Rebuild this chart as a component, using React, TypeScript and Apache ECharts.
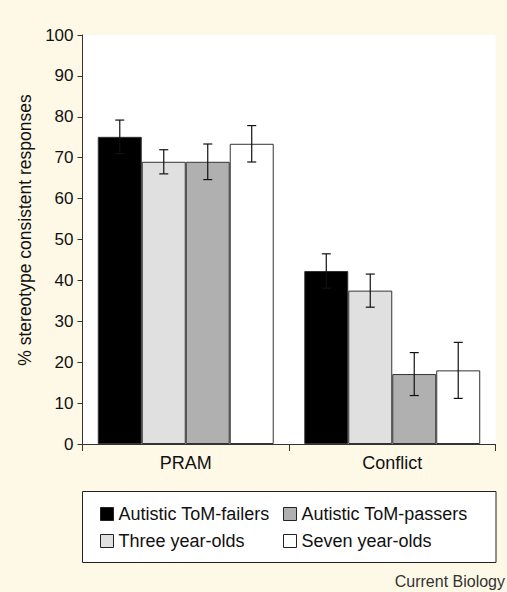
import React, { useEffect, useRef } from "react";
import * as echarts from "echarts";

const categories = ["PRAM", "Conflict"];
const seriesNames = ["Autistic ToM-failers", "Three year-olds", "Autistic ToM-passers", "Seven year-olds"];
const seriesColors = ["#000000", "#e0e0e0", "#b0b0b0", "#ffffff"];
const failersValues = [75.1, 42.3];
const threeValues = [69.0, 37.5];
const passersValues = [69.0, 17.1];
const sevenValues = [73.4, 18.0];
const failersErr = [4.1, 4.2];
const threeErr = [2.95, 4.05];
const passersErr = [4.35, 5.25];
const sevenErr = [4.45, 6.85];
const yTicks = [0, 10, 20, 30, 40, 50, 60, 70, 80, 90, 100];

const FONT = "'Liberation Sans', Arial, Helvetica, sans-serif";
const BG = "#fef9e7";
const CAT_GAP = 0.148;

export default function App() {
  const ref = useRef<HTMLDivElement>(null);
  useEffect(() => {
    if (!ref.current) return;
    const chart = echarts.init(ref.current, undefined, { renderer: "svg" });
    const values = [failersValues, threeValues, passersValues, sevenValues];
    const errs = [failersErr, threeErr, passersErr, sevenErr];
    const errData: number[][] = [];
    values.forEach((vals, s) => {
      vals.forEach((v, c) => {
        errData.push([c, v - errs[s][c], v + errs[s][c], s]);
      });
    });
    const barSeries = seriesNames.map((name, i) => ({
      name,
      type: "bar",
      data: values[i],
      barGap: "0%",
      barCategoryGap: CAT_GAP * 100 + "%",
      itemStyle: { color: seriesColors[i], borderColor: "#333", borderWidth: 1 },
      emphasis: { disabled: true },
    }));
    const legendBase = {
      orient: "vertical",
      top: 505,
      padding: 0,
      itemGap: 9,
      itemWidth: 13,
      itemHeight: 13,
      icon: "rect",
      itemStyle: { borderColor: "#222", borderWidth: 1 },
      textStyle: { fontFamily: FONT, fontSize: 18, color: "#111" },
      selectedMode: false,
    };
    chart.setOption({
      animation: false,
      backgroundColor: BG,
      grid: {
        left: 82.5,
        right: 11.5,
        top: 35,
        bottom: 148,
        show: true,
        backgroundColor: "#ffffff",
        borderWidth: 0,
      },
      legend: [
        { ...legendBase, left: 100, data: [seriesNames[0], seriesNames[1]] },
        { ...legendBase, left: 283, data: [seriesNames[2], seriesNames[3]] },
      ],
      graphic: [
        {
          type: "rect",
          z: -1,
          shape: { x: 82.5, y: 491.5, width: 413.5, height: 71 },
          style: { fill: "#ffffff", stroke: "#222", lineWidth: 1 },
        },
        {
          type: "text",
          x: 505,
          y: 581,
          style: {
            text: "Current Biology",
            fontFamily: FONT,
            fontSize: 16,
            fill: "#333",
            textAlign: "right",
            textVerticalAlign: "middle",
          },
        },
      ],
      xAxis: {
        type: "category",
        data: categories,
        axisLine: { lineStyle: { color: "#333", width: 1 } },
        axisTick: { show: true, length: 7, lineStyle: { color: "#333" } },
        axisLabel: { fontFamily: FONT, fontSize: 18, color: "#111", margin: 10 },
        splitLine: { show: false },
      },
      yAxis: {
        type: "value",
        min: yTicks[0],
        max: yTicks[yTicks.length - 1],
        interval: 10,
        name: "% stereotype consistent responses",
        nameLocation: "middle",
        nameGap: 45,
        nameTextStyle: { fontFamily: FONT, fontSize: 17.5, color: "#111", padding: [0, 0, 0, 19] },
        axisLine: { show: true, lineStyle: { color: "#333", width: 1 } },
        axisTick: { show: true, length: 5, lineStyle: { color: "#333" } },
        axisLabel: { fontFamily: FONT, fontSize: 17, color: "#111", margin: 9 },
        splitLine: { show: false },
      },
      series: [
        ...barSeries,
        {
          type: "custom",
          name: "errors",
          data: errData,
          encode: { x: 0, y: [1, 2] },
          z: 10,
          silent: true,
          renderItem: (params: any, api: any) => {
            const c = api.value(0);
            const low = api.value(1);
            const high = api.value(2);
            const s = api.value(3);
            const center = api.coord([c, 0]);
            const band = api.size([1, 0])[0];
            const barW = (band * (1 - CAT_GAP)) / 4;
            const x = center[0] + (s - 1.5) * barW;
            const yl = api.coord([c, low])[1];
            const yh = api.coord([c, high])[1];
            const cap = 4.5;
            const st = { stroke: "#111", lineWidth: 1.2 };
            return {
              type: "group",
              children: [
                { type: "line", shape: { x1: x, y1: yl, x2: x, y2: yh }, style: st },
                { type: "line", shape: { x1: x - cap, y1: yl, x2: x + cap, y2: yl }, style: st },
                { type: "line", shape: { x1: x - cap, y1: yh, x2: x + cap, y2: yh }, style: st },
              ],
            };
          },
        },
      ],
    });
    return () => chart.dispose();
  }, []);
  return (
    <div
      ref={ref}
      style={{ position: "fixed", left: 0, top: 0, width: 507, height: 592, background: BG }}
    />
  );
}
